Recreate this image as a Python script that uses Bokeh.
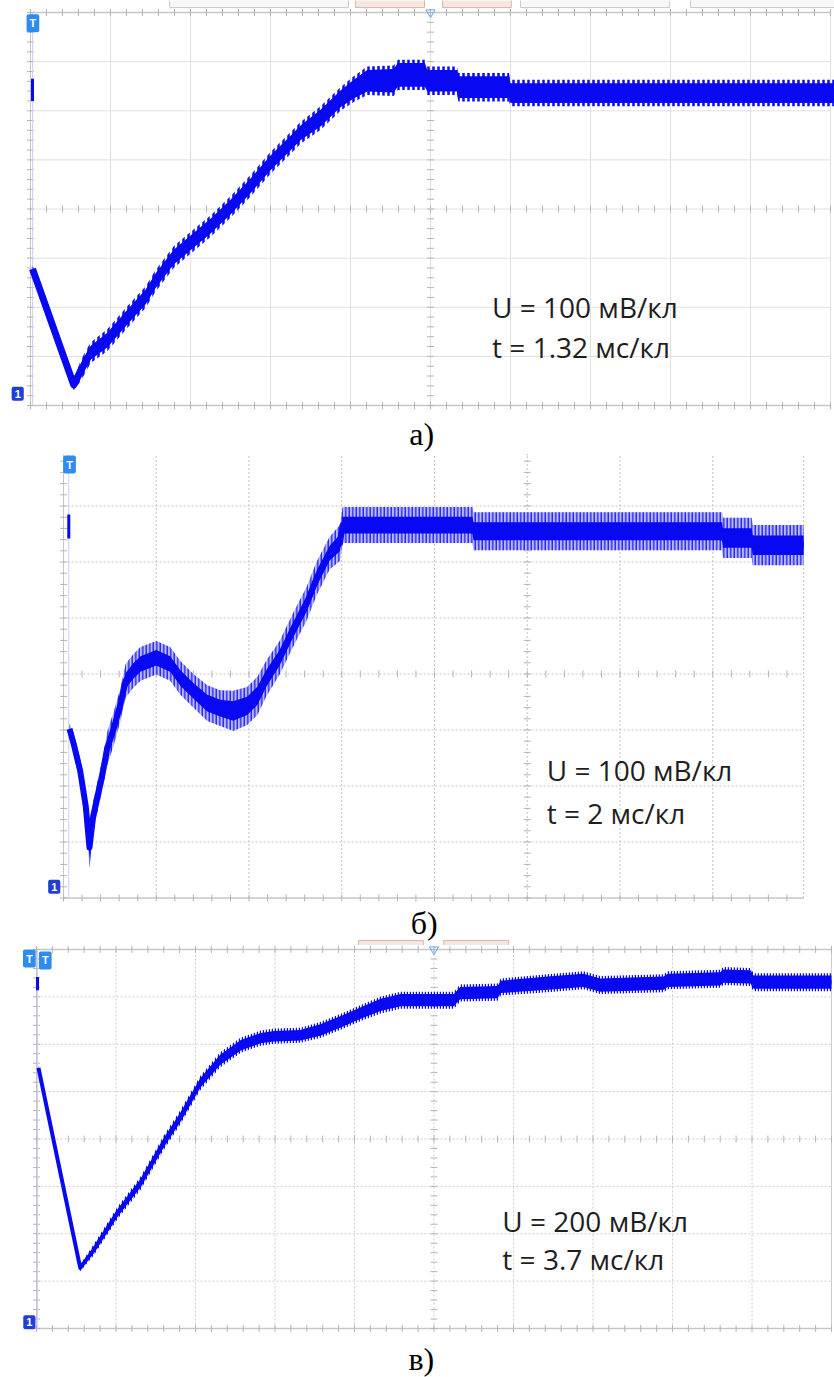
import numpy as np
from bokeh.plotting import figure
from bokeh.layouts import column
from bokeh.models import Range1d, Label
from bokeh.embed import file_html
from bokeh.resources import INLINE

# ---------------- data (screen divisions; centre of screen = 0) ----------------
# а)  U = 100 мВ/кл, t = 1.32 мс/кл
a_pre_t = [0.025, 0.025]
a_pre_u = [2.65, 2.20]
a_t = [0.025, 0.54, 0.625, 0.75, 0.96, 1.21, 1.44, 1.56, 1.79, 2.0, 2.25, 2.5, 2.75, 3.0,
       3.25, 3.375, 3.625, 3.875, 4.04, 4.21, 4.54, 4.59, 4.93, 4.96, 5.33, 5.35, 5.98, 6.0, 10.05]
a_u = [-1.22, -3.58, -3.30, -2.93, -2.67, -2.20, -1.79, -1.47, -0.98, -0.69, -0.35, 0.04, 0.47, 0.94,
       1.34, 1.55, 1.85, 2.24, 2.44, 2.61, 2.61, 2.73, 2.73, 2.61, 2.61, 2.48, 2.48, 2.36, 2.36]
a_r = [0.0, 0.04, 0.14, 0.14, 0.15, 0.15, 0.15, 0.15, 0.15, 0.15, 0.15, 0.15, 0.15, 0.15,
       0.15, 0.15, 0.17, 0.17, 0.19, 0.22, 0.24, 0.24, 0.24, 0.22, 0.22, 0.22, 0.22, 0.20, 0.20]

# б)  U = 100 мВ/кл, t = 2 мс/кл
b_pre_t = [0.057, 0.057]
b_pre_u = [2.85, 2.42]
b_t = [0.065, 0.11, 0.18, 0.24, 0.28, 0.32, 0.42, 0.47, 0.54, 0.61, 0.67, 0.75, 0.83, 1.0, 1.15,
       1.26, 1.40, 1.55, 1.69, 1.83, 1.98, 2.09, 2.19, 2.33, 2.47, 2.62, 2.73, 2.87, 2.98, 3.01,
       4.41, 4.42, 7.10, 7.11, 7.42, 7.43, 7.98]
b_u = [-0.98, -1.25, -1.73, -2.36, -3.10, -2.54, -1.79, -1.34, -0.98, -0.57, -0.12, 0.05, 0.18, 0.29,
       0.18, -0.07, -0.30, -0.52, -0.61, -0.66, -0.57, -0.39, -0.07, 0.29, 0.77, 1.25, 1.71, 2.16,
       2.34, 2.66, 2.66, 2.55, 2.55, 2.43, 2.43, 2.30, 2.30]
b_r = [0.02, 0.12, 0.14, 0.16, 0.30, 0.20, 0.20, 0.23, 0.23, 0.22, 0.23, 0.23, 0.23, 0.23, 0.23,
       0.23, 0.23, 0.25, 0.25, 0.29, 0.27, 0.27, 0.25, 0.23, 0.23, 0.23, 0.23, 0.22, 0.25, 0.25,
       0.25, 0.27, 0.27, 0.29, 0.29, 0.29, 0.29]

# в)  U = 200 мВ/кл, t = 3.7 мс/кл
c_pre_t = [0.013, 0.013]
c_pre_u = [3.42, 3.14]
c_t = [0.025, 0.55, 0.72, 1.02, 1.31, 1.60, 1.81, 2.06, 2.31, 2.57, 2.82, 2.99, 3.32, 3.57, 3.82,
       4.08, 4.33, 4.58, 5.25, 5.33, 5.80, 5.84, 6.43, 6.88, 7.09, 7.89, 7.94, 8.60, 8.64, 8.98,
       9.02, 10.0]
c_u = [1.50, -2.72, -2.34, -1.56, -0.93, -0.08, 0.46, 1.18, 1.67, 1.98, 2.13, 2.17, 2.19, 2.30, 2.47,
       2.66, 2.83, 2.93, 2.93, 3.08, 3.10, 3.21, 3.29, 3.35, 3.25, 3.29, 3.35, 3.38, 3.44, 3.42,
       3.31, 3.31]
c_r = [0.0, 0.02, 0.07, 0.08, 0.09, 0.10, 0.10, 0.10, 0.11, 0.11, 0.11, 0.11, 0.11, 0.12, 0.12,
       0.12, 0.13, 0.13, 0.13, 0.13, 0.13, 0.13, 0.14, 0.14, 0.14, 0.14, 0.14, 0.14, 0.14, 0.14,
       0.14, 0.14]

panel_labels = ["а)", "б)", "в)"]
scale_texts = [("U = 100 мВ/кл", "t = 1.32 мс/кл"),
               ("U = 100 мВ/кл", "t = 2 мс/кл"),
               ("U = 200 мВ/кл", "t = 3.7 мс/кл")]

# oscilloscope UI tabs (left/right in divisions)
tabs_a_pink_l, tabs_a_pink_r = [4.06, 5.15], [4.925, 6.01]
tabs_a_gray_l, tabs_a_gray_r = [1.74, 6.125, 8.25], [3.975, 7.99, 10.1]
tabs_b_pink_l, tabs_b_pink_r = [3.18, 4.10], [3.88, 4.80]

BLUE = "#0808f2"
TICK = "#b4b4b4"
EDGE = "#c6c6c6"


def make_fig(height, x0, x1, y0, y1):
    p = figure(width=834, height=height, x_range=Range1d(x0, x1), y_range=Range1d(y0, y1),
               x_axis_type=None, y_axis_type=None, toolbar_location=None, output_backend="svg",
               min_border=0, outline_line_color=None,
               background_fill_color="white", border_fill_color="white")
    p.xgrid.visible = False
    p.ygrid.visible = False
    return p


def screen(p, x_end, grid_dash, grid_color, edges=("l", "b", "t", "r"), right_dash="solid"):
    vx = np.arange(1, int(np.ceil(x_end)))
    p.segment(x0=vx, y0=np.full(len(vx), -4.0), x1=vx, y1=np.full(len(vx), 4.0),
              line_color=grid_color, line_dash=grid_dash, line_width=1)
    hy = np.arange(-3, 4)
    p.segment(x0=np.zeros(len(hy)), y0=hy, x1=np.full(len(hy), x_end), y1=hy,
              line_color=grid_color, line_dash=grid_dash, line_width=1)
    if "l" in edges:
        p.segment(x0=[0], y0=[-4], x1=[0], y1=[4], line_color=EDGE, line_width=1)
    if "b" in edges:
        p.segment(x0=[0], y0=[-4], x1=[x_end], y1=[-4], line_color=EDGE, line_width=1.5)
    if "t" in edges:
        p.segment(x0=[0], y0=[4], x1=[x_end], y1=[4], line_color=EDGE, line_width=1.5)
    if "r" in edges:
        p.segment(x0=[x_end], y0=[-4], x1=[x_end], y1=[4], line_color=grid_color,
                  line_dash=right_dash, line_width=1)
    tx = np.arange(0, x_end + 1e-6, 0.2)
    ty = np.arange(-4, 4 + 1e-6, 0.2)
    for yy in (0, -4, 4):
        p.scatter(tx, np.full(len(tx), yy), marker="dash", angle=np.pi / 2, size=7,
                  line_color=TICK, line_width=1)
    for xx in (0, 5):
        p.scatter(np.full(len(ty), xx), ty, marker="dash", size=7, line_color=TICK, line_width=1)
    p.scatter([5], [4], marker="inverted_triangle", size=9, fill_color=None,
              line_color="#5aa5ff", line_width=1)


def badge(p, x, y, text, color):
    p.add_layout(Label(x=x, y=y, text=text, text_color="white", text_font_size="11px",
                       text_font_style="bold", text_align="center", text_baseline="middle",
                       background_fill_color=color, padding=3, border_radius=2))


def trace(p, t, u, r, pre_t, pre_u, lw, fringe, h_scale, h_weight, striped=False):
    t = np.asarray(t)
    u = np.asarray(u)
    r = np.asarray(r)
    p.segment(x0=[pre_t[0]], y0=[-4], x1=[pre_t[0]], y1=[4], line_color="#cfcfff", line_width=1)
    if striped:
        p.varea(x=t, y1=u - r - fringe, y2=u + r + fringe, fill_color="#a8a8ff", fill_alpha=0.8,
                hatch_pattern="|", hatch_color=BLUE, hatch_weight=h_weight, hatch_scale=h_scale)
        p.varea(x=t, y1=u - 0.6 * r, y2=u + 0.6 * r, fill_color=BLUE)
    else:
        # ripple fringe (comb-like edge of the thick oscilloscope trace)
        p.varea(x=t, y1=u - r - fringe, y2=u + r + fringe, fill_alpha=0,
                hatch_pattern="|", hatch_color=BLUE, hatch_weight=h_weight, hatch_scale=h_scale)
        p.varea(x=t, y1=u - r, y2=u + r, fill_color=BLUE)
    p.line(t, u, line_width=lw, line_color=BLUE, line_join="round")
    p.line(pre_t, pre_u, line_width=3, line_color=BLUE)


def texts(p, x, y1, y2, lines, lx, ly, label):
    for yy, txt in zip((y1, y2), lines):
        p.add_layout(Label(x=x, y=yy, text=txt, text_font="Open Sans", text_font_size="28px",
                           text_color="#1e1e1e", text_baseline="alphabetic"))
    p.add_layout(Label(x=lx, y=ly, text=label, text_font="Liberation Serif",
                       text_font_size="32px", text_color="black", text_align="center",
                       text_baseline="alphabetic"))


# ---- а) : screen 30..830 px wide (80 px/div), 12..405 px high (49.125 px/div)
pa = make_fig(454, -30 / 80, 804 / 80, (208.5 - 454) / 49.125, 208.5 / 49.125)
pa.quad(left=tabs_a_gray_l, right=tabs_a_gray_r, bottom=4.10, top=4.30,
        fill_color="#f7f7f7", line_color="#c8c8c8", line_width=1)
pa.quad(left=tabs_a_pink_l, right=tabs_a_pink_r, bottom=4.10, top=4.30,
        fill_color="#f6e6e0", line_color="#d8b4a8", line_width=1)
screen(pa, 10, "solid", "#e0e0e0")
trace(pa, a_t, a_u, a_r, a_pre_t, a_pre_u, 7, 0.07, 5, 2.5)
texts(pa, 5.77, -1.985, -2.80, scale_texts[0], 4.89, -4.59, panel_labels[0])
badge(pa, 0.03, 3.78, "T", "#2d8cf0")
badge(pa, -0.16, -3.76, "1", "#1f3fd6")

# ---- б) : screen 63..805 px (92.75 px/div), centre at 219.5 px (56 px/div)
pb = make_fig(491, -63 / 92.75, 771 / 92.75, (219.5 - 491) / 56, 219.5 / 56)
screen(pb, 7.98, "2 2", "#c4c4c4", edges=("l", "b", "r"), right_dash="2 2")
trace(pb, b_t, b_u, b_r, b_pre_t, b_pre_u, 6, 0.07, 3.5, 1.2, striped=True)
pb.quad(left=tabs_b_pink_l, right=tabs_b_pink_r, bottom=-4.90, top=-4.76,
        fill_color="#f6e6e0", line_color="#d8b4a8", line_width=1)
texts(pb, 5.21, -1.72, -2.49, scale_texts[1], 3.89, -4.45, panel_labels[1])
badge(pb, 0.065, 3.74, "T", "#2d8cf0")
badge(pb, -0.1, -3.80, "1", "#1f3fd6")

# ---- в) : screen 36..831 px (79.5 px/div), 4..383 px local (47.375 px/div)
pc = make_fig(432, -36 / 79.5, 798 / 79.5, (193.5 - 432) / 47.375, 193.5 / 47.375)
screen(pc, 10, "2 2", "#cccccc")
trace(pc, c_t, c_u, c_r, c_pre_t, c_pre_u, 4, 0.05, 3, 1.5)
texts(pc, 5.86, -1.74, -2.54, scale_texts[2], 4.84, -4.65, panel_labels[2])
badge(pc, -0.09, 3.81, "T", "#2d8cf0")
badge(pc, 0.11, 3.77, "T", "#2d8cf0")
badge(pc, -0.09, -3.87, "1", "#1f3fd6")

layout = column(pa, pb, pc)
open("out.html", "w").write(file_html(layout, INLINE))
